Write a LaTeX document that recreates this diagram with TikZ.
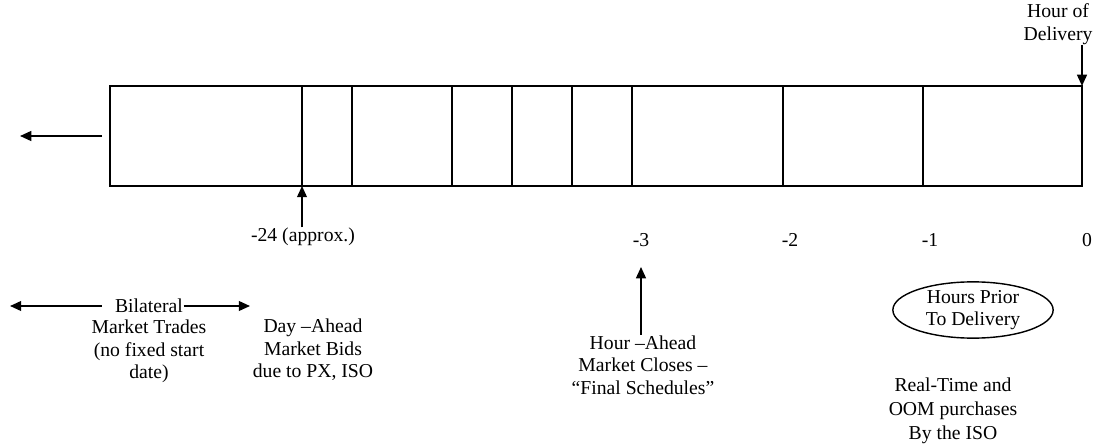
\documentclass[tikz,border=0pt]{standalone}
\usepackage{fontspec}
\setmainfont{Liberation Serif}
\usetikzlibrary{arrows.meta, positioning, shapes.geometric}
\tikzset{
  every picture/.style={x=0.025cm, y=-0.025cm, line width=1pt},
  bar/.style={draw=black, line width=1pt},
  arrow/.style={-{Triangle[length=8pt, width=7pt]}, draw=black, line width=1.2pt},
  lbl/.style={font=\fontsize{14}{16}\selectfont, align=center, inner sep=0pt},
}

\begin{document}
\begin{tikzpicture}
  \useasboundingbox (0,0) rectangle (1103,446);
  % the hour bar
  \draw[bar] (110,86) rectangle (1082,186);
  \foreach \x/\n in {302/d24, 352/dA, 452/dB, 512/dC, 572/dD, 632/d3, 783/d2, 923/d1}
    \draw[bar] (\x,86) -- (\x,186) coordinate (\n);
  \coordinate (d0) at (1082,86);
  % earlier than the bar
  \coordinate (lt) at (102,136);
  \coordinate (lf) at (20,136);
  \draw[arrow] (lt) -- (lf);
  % hour marks
  \node[lbl] (m24) at (303,237) {-24 (approx.)};
  \draw[arrow] (m24.north -| d24) -- (d24);
  \node[lbl] (m3) at (641,240) {-3};
  \node[lbl] (m2) at (790,240) {-2};
  \node[lbl] (m1) at (930,240) {-1};
  \node[lbl] (m0) at (1087,240) {0};
  \node[lbl] (hod) at (1058,24) {Hour of\\Delivery};
  \draw[arrow] (hod.south -| d0) -- (d0);
  % notes below
  \node[lbl] (bil) at (149,306) {Bilateral};
  \node[lbl, below=4pt of bil] (bmt) {Market Trades\\(no fixed start\\date)};
  \coordinate (bl) at (10,306);
  \coordinate (br) at (250,306);
  \draw[arrow, shorten <=9pt] (bil.west) -- (bl);
  \draw[arrow] (bil.east) -- (br);
  \node[lbl] (dam) at (313,350) {Day –Ahead\\Market Bids\\due to PX, ISO};
  \node[lbl] (hac) at (643,365) {Hour –Ahead\\Market Closes –\\“Final Schedules”};
  \coordinate (tip3) at (641,267);
  \draw[arrow] (hac.north -| tip3) -- (tip3);
  \node[lbl, ellipse, draw, line width=1pt, minimum width=114pt, minimum height=38pt] (hpd) at (973,310) {Hours Prior\\To Delivery};
  \node[lbl] (rt) at (953,411) {Real-Time and\\[1pt]OOM purchases\\[1pt]By the ISO};
\end{tikzpicture}
\end{document}
